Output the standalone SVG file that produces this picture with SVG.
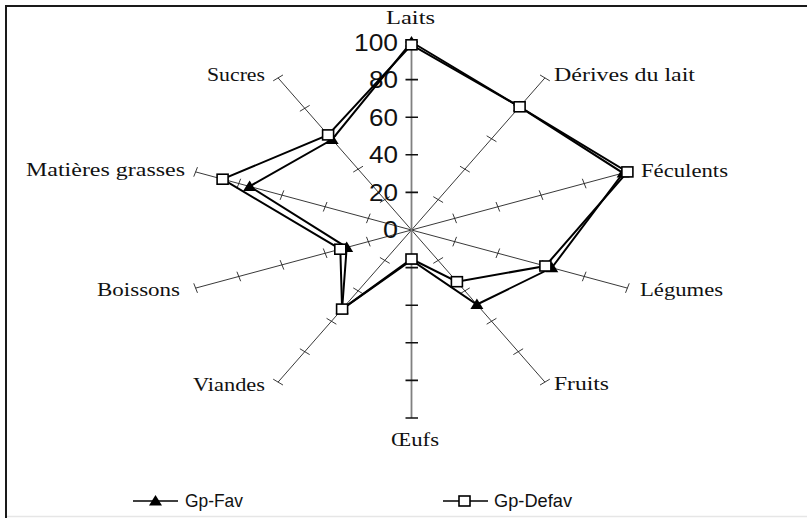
<svg xmlns="http://www.w3.org/2000/svg" xmlns:xlink="http://www.w3.org/1999/xlink" width="807" height="518" viewBox="0 0 807 518">
  <style>
    .ax { stroke: #222; stroke-width: 0.9; fill: none; vector-effect: non-scaling-stroke; }
    .cat { font-family: "Liberation Serif", "Times New Roman", serif; font-size: 18.5px; fill: #111; }
    .val { font-family: "Liberation Sans", Arial, sans-serif; font-size: 23px; fill: #111; text-anchor: end; }
    .leg { font-family: "Liberation Sans", Arial, sans-serif; font-size: 19px; fill: #111; }
    .ser { fill: none; stroke: #000; stroke-width: 2; stroke-linejoin: miter; }
  </style>
  <defs>
    <g id="axis">
      <line class="ax" x1="0" y1="0" x2="0" y2="-188"/>
      <path class="ax" d="M-5,-37.6 H5 M-5,-75.2 H5 M-5,-112.8 H5 M-5,-150.4 H5 M-5,-188 H5"/>
    </g>
    <path id="tri" d="M0,-6 L6.5,4.5 L-6.5,4.5 Z" fill="#000"/>
    <rect id="sq" x="-5.5" y="-5" width="11" height="10" fill="#fff" stroke="#000" stroke-width="1.6"/>
  </defs>

  <rect width="807" height="518" fill="#fff"/>

  <g id="frame" fill="none">
    <line x1="5" y1="6" x2="807" y2="6" stroke="#1a1a1a" stroke-width="2"/>
    <line x1="6" y1="5" x2="6" y2="518" stroke="#1a1a1a" stroke-width="2"/>
    <line x1="7" y1="516.5" x2="807" y2="516.5" stroke="#e6e6e6" stroke-width="1.5"/>
  </g>

  <g id="axes" transform="translate(411.5,230) scale(1.2074,1)">
    <use xlink:href="#axis" transform="rotate(36)"/>
    <use xlink:href="#axis" transform="rotate(72)"/>
    <use xlink:href="#axis" transform="rotate(108)"/>
    <use xlink:href="#axis" transform="rotate(144)"/>
    <use xlink:href="#axis" transform="rotate(216)"/>
    <use xlink:href="#axis" transform="rotate(252)"/>
    <use xlink:href="#axis" transform="rotate(288)"/>
    <use xlink:href="#axis" transform="rotate(324)"/>
  </g>

  <g id="value-axis">
    <line x1="411.5" y1="42" x2="411.5" y2="418" stroke="#808080" stroke-width="1.8"/>
    <path d="M405.5,42 H418 M405.5,79.6 H418 M405.5,117.2 H418 M405.5,154.8 H418 M405.5,192.4 H418 M405.5,267.6 H418 M405.5,305.2 H418 M405.5,342.8 H418 M405.5,380.4 H418 M405.5,418 H418" stroke="#111" stroke-width="1.6"/>
    <text class="val" x="398" y="50.5" textLength="44" lengthAdjust="spacingAndGlyphs">100</text>
    <text class="val" x="398" y="88.1" textLength="29" lengthAdjust="spacingAndGlyphs">80</text>
    <text class="val" x="398" y="125.7" textLength="29" lengthAdjust="spacingAndGlyphs">60</text>
    <text class="val" x="398" y="163.3" textLength="29" lengthAdjust="spacingAndGlyphs">40</text>
    <text class="val" x="398" y="200.9" textLength="29" lengthAdjust="spacingAndGlyphs">20</text>
    <text class="val" x="398" y="238" textLength="15" lengthAdjust="spacingAndGlyphs">0</text>
  </g>

  <g id="categories">
    <text class="cat" x="386" y="24" textLength="49" lengthAdjust="spacingAndGlyphs">Laits</text>
    <text class="cat" x="554" y="81" textLength="141" lengthAdjust="spacingAndGlyphs">Dérives du lait</text>
    <text class="cat" x="641" y="177" textLength="87" lengthAdjust="spacingAndGlyphs">Féculents</text>
    <text class="cat" x="640" y="296" textLength="83" lengthAdjust="spacingAndGlyphs">Légumes</text>
    <text class="cat" x="554" y="390" textLength="55" lengthAdjust="spacingAndGlyphs">Fruits</text>
    <text class="cat" x="391" y="446" textLength="48" lengthAdjust="spacingAndGlyphs">Œufs</text>
    <text class="cat" x="193" y="391" textLength="72" lengthAdjust="spacingAndGlyphs">Viandes</text>
    <text class="cat" x="97" y="296" textLength="83" lengthAdjust="spacingAndGlyphs">Boissons</text>
    <text class="cat" x="26" y="176" textLength="159" lengthAdjust="spacingAndGlyphs">Matières grasses</text>
    <text class="cat" x="207" y="81" textLength="58" lengthAdjust="spacingAndGlyphs">Sucres</text>
  </g>

  <g id="series-fav">
    <polygon class="ser" points="411.5,42 519.6,106.8 623.1,173.1 551.8,267.8 476.9,304.5 411.5,260.1 342.1,309.1 346.7,247.4 249.6,186.4 332.1,139.5"/>
    <use xlink:href="#tri" x="411.5" y="42"/>
    <use xlink:href="#tri" x="519.6" y="106.8"/>
    <use xlink:href="#tri" x="623.1" y="173.1"/>
    <use xlink:href="#tri" x="551.8" y="267.8"/>
    <use xlink:href="#tri" x="476.9" y="304.5"/>
    <use xlink:href="#tri" x="411.5" y="260.1"/>
    <use xlink:href="#tri" x="342.1" y="309.1"/>
    <use xlink:href="#tri" x="346.7" y="247.4"/>
    <use xlink:href="#tri" x="249.6" y="186.4"/>
    <use xlink:href="#tri" x="332.1" y="139.5"/>
  </g>

  <g id="series-defav">
    <polygon class="ser" points="411.5,44.8 519.6,106.8 627.4,171.9 545.4,266 456.9,281.7 411.5,259 342.1,309.1 340.3,249.2 222.6,179.2 328.1,134.9"/>
    <use xlink:href="#sq" x="411.5" y="44.8"/>
    <use xlink:href="#sq" x="519.6" y="106.8"/>
    <use xlink:href="#sq" x="627.4" y="171.9"/>
    <use xlink:href="#sq" x="545.4" y="266"/>
    <use xlink:href="#sq" x="456.9" y="281.7"/>
    <use xlink:href="#sq" x="411.5" y="259"/>
    <use xlink:href="#sq" x="342.1" y="309.1"/>
    <use xlink:href="#sq" x="340.3" y="249.2"/>
    <use xlink:href="#sq" x="222.6" y="179.2"/>
    <use xlink:href="#sq" x="328.1" y="134.9"/>
  </g>

  <g id="legend">
    <g id="legend-fav">
      <line x1="133" y1="501" x2="178" y2="501" stroke="#000" stroke-width="1.5"/>
      <use xlink:href="#tri" x="155.5" y="501"/>
      <text class="leg" x="185" y="507" textLength="58" lengthAdjust="spacingAndGlyphs">Gp-Fav</text>
    </g>
    <g id="legend-defav">
      <line x1="443" y1="501" x2="488" y2="501" stroke="#000" stroke-width="1.5"/>
      <use xlink:href="#sq" x="464.5" y="501"/>
      <text class="leg" x="494" y="507" textLength="78" lengthAdjust="spacingAndGlyphs">Gp-Defav</text>
    </g>
  </g>
</svg>
